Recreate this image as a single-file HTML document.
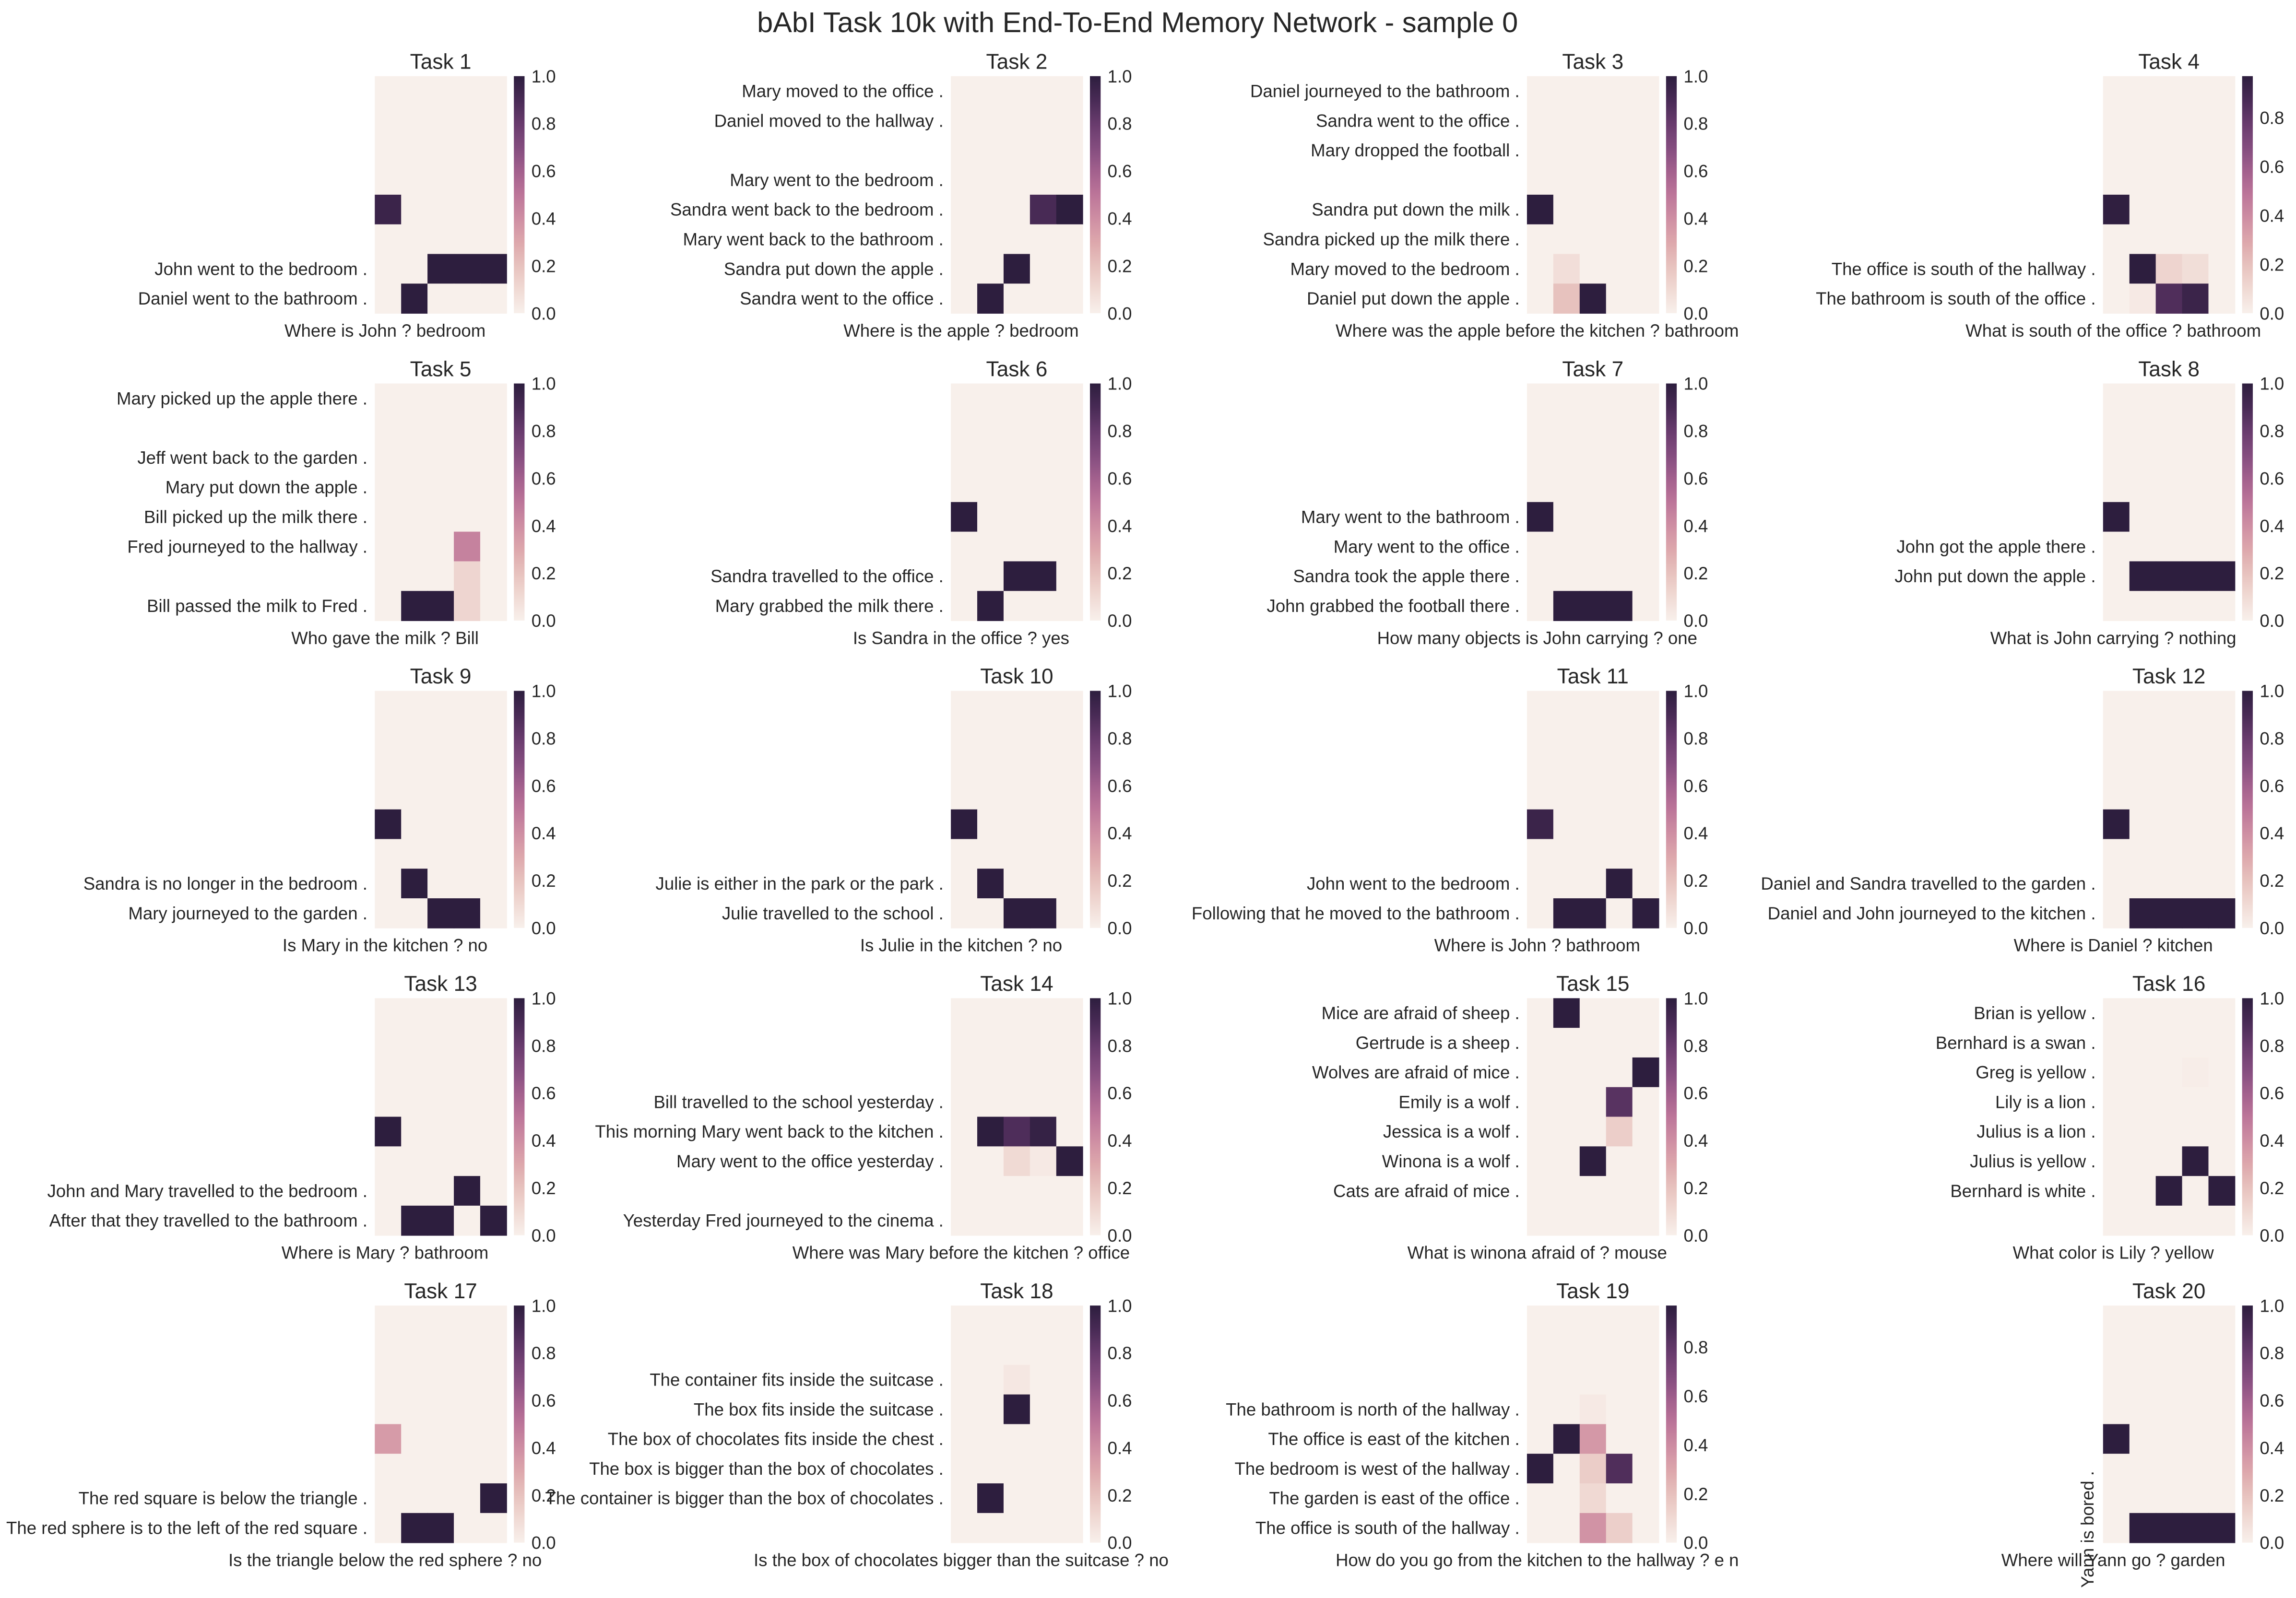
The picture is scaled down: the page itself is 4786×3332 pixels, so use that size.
<!DOCTYPE html>
<html><head><meta charset="utf-8"><style>
html,body{margin:0;padding:0;background:#fff;}
svg{display:block;}
text{font-family:"Liberation Sans",Arial,sans-serif;fill:#262626;}
</style></head>
<body>
<svg id="fig" width="4786" height="3332" viewBox="0 0 1568.3 1091.8" xmlns="http://www.w3.org/2000/svg">
<rect x="0" y="0" width="1568.3" height="1091.8" fill="#ffffff"/>
<text x="777" y="22" font-size="19.5" text-anchor="middle">bAbI Task 10k with End-To-End Memory Network - sample 0</text>
</svg>
<script>
const taskTitles = ["Task 1","Task 2","Task 3","Task 4","Task 5","Task 6","Task 7","Task 8","Task 9","Task 10","Task 11","Task 12","Task 13","Task 14","Task 15","Task 16","Task 17","Task 18","Task 19","Task 20"];
const questions = ["Where is John ? bedroom","Where is the apple ? bedroom","Where was the apple before the kitchen ? bathroom","What is south of the office ? bathroom","Who gave the milk ? Bill","Is Sandra in the office ? yes","How many objects is John carrying ? one","What is John carrying ? nothing","Is Mary in the kitchen ? no","Is Julie in the kitchen ? no","Where is John ? bathroom","Where is Daniel ? kitchen","Where is Mary ? bathroom","Where was Mary before the kitchen ? office","What is winona afraid of ? mouse","What color is Lily ? yellow","Is the triangle below the red sphere ? no","Is the box of chocolates bigger than the suitcase ? no","How do you go from the kitchen to the hallway ? e n","Where will Yann go ? garden"];
const sentences = [
["","","","","","","John went to the bedroom .","Daniel went to the bathroom ."],
["Mary moved to the office .","Daniel moved to the hallway .","","Mary went to the bedroom .","Sandra went back to the bedroom .","Mary went back to the bathroom .","Sandra put down the apple .","Sandra went to the office ."],
["Daniel journeyed to the bathroom .","Sandra went to the office .","Mary dropped the football .","","Sandra put down the milk .","Sandra picked up the milk there .","Mary moved to the bedroom .","Daniel put down the apple ."],
["","","","","","","The office is south of the hallway .","The bathroom is south of the office ."],
["Mary picked up the apple there .","","Jeff went back to the garden .","Mary put down the apple .","Bill picked up the milk there .","Fred journeyed to the hallway .","","Bill passed the milk to Fred ."],
["","","","","","","Sandra travelled to the office .","Mary grabbed the milk there ."],
["","","","","Mary went to the bathroom .","Mary went to the office .","Sandra took the apple there .","John grabbed the football there ."],
["","","","","","John got the apple there .","John put down the apple .",""],
["","","","","","","Sandra is no longer in the bedroom .","Mary journeyed to the garden ."],
["","","","","","","Julie is either in the park or the park .","Julie travelled to the school ."],
["","","","","","","John went to the bedroom .","Following that he moved to the bathroom ."],
["","","","","","","Daniel and Sandra travelled to the garden .","Daniel and John journeyed to the kitchen ."],
["","","","","","","John and Mary travelled to the bedroom .","After that they travelled to the bathroom ."],
["","","","Bill travelled to the school yesterday .","This morning Mary went back to the kitchen .","Mary went to the office yesterday .","","Yesterday Fred journeyed to the cinema ."],
["Mice are afraid of sheep .","Gertrude is a sheep .","Wolves are afraid of mice .","Emily is a wolf .","Jessica is a wolf .","Winona is a wolf .","Cats are afraid of mice .",""],
["Brian is yellow .","Bernhard is a swan .","Greg is yellow .","Lily is a lion .","Julius is a lion .","Julius is yellow .","Bernhard is white .",""],
["","","","","","","The red square is below the triangle .","The red sphere is to the left of the red square ."],
["","","The container fits inside the suitcase .","The box fits inside the suitcase .","The box of chocolates fits inside the chest .","The box is bigger than the box of chocolates .","The container is bigger than the box of chocolates .",""],
["","","","The bathroom is north of the hallway .","The office is east of the kitchen .","The bedroom is west of the hallway .","The garden is east of the office .","The office is south of the hallway ."],
["","","","","","","",""]
];
const Z=[0,0,0,0,0];
const attention = [
[Z,Z,Z,Z,[0.95,0,0,0,0],Z,[0,0,1,1,1],[0,1,0,0,0]],
[Z,Z,Z,Z,[0,0,0,0.9,1],Z,[0,0,1,0,0],[0,1,0,0,0]],
[Z,Z,Z,Z,[1,0,0,0,0],Z,[0,0.08,0,0,0],[0,0.2,1,0,0]],
[Z,Z,Z,Z,[0.96,0,0,0,0],Z,[0,0.97,0.12,0.08,0],[0,0.03,0.85,0.92,0]],
[Z,Z,Z,Z,Z,[0,0,0,0.45,0],[0,0,0,0.12,0],[0,1,1,0.12,0]],
[Z,Z,Z,Z,[1,0,0,0,0],Z,[0,0,1,1,0],[0,1,0,0,0]],
[Z,Z,Z,Z,[1,0,0,0,0],Z,Z,[0,1,1,1,0]],
[Z,Z,Z,Z,[1,0,0,0,0],Z,[0,1,1,1,1],Z],
[Z,Z,Z,Z,[1,0,0,0,0],Z,[0,1,0,0,0],[0,0,1,1,0]],
[Z,Z,Z,Z,[1,0,0,0,0],Z,[0,1,0,0,0],[0,0,1,1,0]],
[Z,Z,Z,Z,[0.95,0,0,0,0],Z,[0,0,0,1,0],[0,1,1,0,1]],
[Z,Z,Z,Z,[1,0,0,0,0],Z,Z,[0,1,1,1,1]],
[Z,Z,Z,Z,[1,0,0,0,0],Z,[0,0,0,1,0],[0,1,1,0,1]],
[Z,Z,Z,Z,[0,1,0.88,0.97,0],[0,0,0.1,0.03,1],Z,Z],
[[0,1,0,0,0],Z,[0,0,0,0,1],[0,0,0,0.85,0],[0,0,0,0.15,0],[0,0,1,0,0],Z,Z],
[Z,Z,[0,0,0,0.015,0],Z,Z,[0,0,0,1,0],[0,0,1,0,1],Z],
[Z,Z,Z,Z,[0.35,0,0,0,0],Z,[0,0,0,0,1],[0,1,1,0,0]],
[Z,Z,[0,0,0.04,0,0],[0,0,1,0,0],Z,Z,[0,1,0,0,0],Z],
[Z,Z,Z,[0,0,0.03,0,0],[0,0.97,0.35,0,0],[0.97,0,0.15,0.85,0],[0,0,0.1,0,0],[0,0,0.37,0.14,0]],
[Z,Z,Z,Z,[1,0,0,0,0],Z,Z,[0,1,1,1,1]]
];
const vmaxes = [1,1,1,0.97,1,1,1,1,1,1,1,1,1,1,1,1,1,1,0.97,1];
const cbTicks = [0,0.2,0.4,0.6,0.8,1.0];

const colX=[256,649.5,1043,1436.5], rowY=[52,262,472,682,892];
const HW=90, HH=162, NR=8, NC=5;
const stops=[[0,[248,240,235]],[0.1,[240,218,212]],[0.2,[231,194,190]],[0.3,[221,167,172]],[0.4,[206,142,163]],[0.5,[188,117,153]],[0.6,[162,96,141]],[0.7,[131,76,126]],[0.8,[104,59,109]],[0.9,[72,42,85]],[1,[45,30,62]]];
function cmap(t){t=Math.max(0,Math.min(1,t));for(let i=1;i<stops.length;i++){if(t<=stops[i][0]){const a=stops[i-1],b=stops[i];const f=(t-a[0])/(b[0]-a[0]);const c=a[1].map((v,k)=>Math.round(v+(b[1][k]-v)*f));return `rgb(${c[0]},${c[1]},${c[2]})`;}}return 'rgb(45,30,62)';}
const NS="http://www.w3.org/2000/svg";
const svg=document.getElementById('fig');
function mk(tag,attrs,parent){const e=document.createElementNS(NS,tag);for(const k in attrs)e.setAttribute(k,attrs[k]);(parent||svg).appendChild(e);return e;}
const defs=mk('defs',{});
const grad=mk('linearGradient',{id:'cbg',x1:0,y1:1,x2:0,y2:0},defs);
for(let i=0;i<=20;i++){mk('stop',{offset:(i/20),'stop-color':cmap(i/20)},grad);}

for(let t=0;t<20;t++){
  const x0=colX[t%4], y0=rowY[Math.floor(t/4)], vmax=vmaxes[t];
  const g=mk('g',{});
  
  
  const xs=c=>x0+c*HW/NC, ys=r=>y0+r*HH/NR;
  const title=mk('text',{x:x0+HW/2,y:y0-5,'font-size':14.5,'text-anchor':'middle'},g);
  title.textContent=taskTitles[t];
  
  
  for(let r=0;r<NR;r++)for(let c=0;c<NC;c++){
    const v=attention[t][r][c];
    const cell=mk('rect',{x:xs(c),y:ys(r),width:HW/NC+0.3,height:HH/NR+0.3,fill:cmap(v/vmax)},g);
    
    
  }
  for(let r=0;r<NR;r++){
    const s=sentences[t][r]; if(!s) continue;
    const lb=mk('text',{x:x0-5,y:ys(r)+HH/NR/2+4.2,'font-size':12,'text-anchor':'end'},g);
    lb.textContent=s;
    
    
  }
  const ql=mk('text',{x:x0+7,y:y0+HH+16,'font-size':12,'text-anchor':'middle'},g);
  ql.textContent=questions[t];
  
  
  const cbx=x0+95;
  const cb=mk('rect',{x:cbx,y:y0,width:7.3,height:HH,fill:'url(#cbg)'},g);
  
  
  for(const tv of cbTicks){
    if(tv>vmax+1e-9) continue;
    const tk=mk('text',{x:cbx+12,y:y0+HH-tv/vmax*HH+4.3,'font-size':12},g);
    tk.textContent=tv.toFixed(1);
    
    
  }
}
const yb=mk('text',{x:1430,y:1005,'font-size':12,'text-anchor':'end',transform:'rotate(-90 1430 1005)'});
yb.textContent='Yann is bored .';


</script>
</body></html>
